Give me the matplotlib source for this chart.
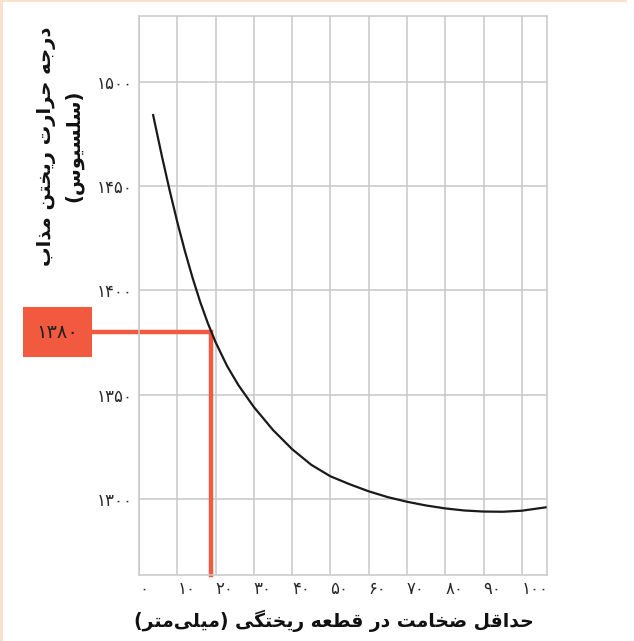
import matplotlib
matplotlib.use("Agg")
import matplotlib.pyplot as plt
from matplotlib.patches import Rectangle

# --- data -------------------------------------------------------------
thickness = [3.7, 4, 6, 8, 10, 12, 14, 16, 18, 20, 23, 26, 30, 35, 40, 45,
             50, 55, 60, 65, 70, 75, 80, 85, 90, 95, 100, 106.2]
pour_temp = [1484, 1481.4, 1464.2, 1448.0, 1432.8, 1418.8, 1406.0, 1394.4,
             1384.2, 1375.2, 1363.8, 1354.5, 1344.1, 1333.1, 1323.9, 1316.4,
             1310.9, 1307.1, 1303.7, 1300.9, 1298.7, 1296.9, 1295.5, 1294.5,
             1294.0, 1293.9, 1294.4, 1296.0]

x_ticks = [0, 10, 20, 30, 40, 50, 60, 70, 80, 90, 100]
y_ticks = [1300, 1350, 1400, 1450, 1500]

marked_temp = 1380
marked_thickness = 18.9

xlabel = "حداقل ضخامت در قطعه ریختگی (میلی\u200cمتر)"
ylabel = "درجه حرارت ریختن مذاب\n(سلسیوس)"

RED = "#f15a3e"

# --- farsi helpers (matplotlib has no arabic shaping) ------------------
FORMS = {  # isolated, final, initial, medial
    "ا": ("\uFE8D", "\uFE8E", None, None),
    "ب": ("\uFE8F", "\uFE90", "\uFE91", "\uFE92"),
    "ت": ("\uFE95", "\uFE96", "\uFE97", "\uFE98"),
    "ج": ("\uFE9D", "\uFE9E", "\uFE9F", "\uFEA0"),
    "ح": ("\uFEA1", "\uFEA2", "\uFEA3", "\uFEA4"),
    "خ": ("\uFEA5", "\uFEA6", "\uFEA7", "\uFEA8"),
    "د": ("\uFEA9", "\uFEAA", None, None),
    "ذ": ("\uFEAB", "\uFEAC", None, None),
    "ر": ("\uFEAD", "\uFEAE", None, None),
    "س": ("\uFEB1", "\uFEB2", "\uFEB3", "\uFEB4"),
    "ض": ("\uFEBD", "\uFEBE", "\uFEBF", "\uFEC0"),
    "ط": ("\uFEC1", "\uFEC2", "\uFEC3", "\uFEC4"),
    "ع": ("\uFEC9", "\uFECA", "\uFECB", "\uFECC"),
    "ق": ("\uFED5", "\uFED6", "\uFED7", "\uFED8"),
    "ل": ("\uFEDD", "\uFEDE", "\uFEDF", "\uFEE0"),
    "م": ("\uFEE1", "\uFEE2", "\uFEE3", "\uFEE4"),
    "ن": ("\uFEE5", "\uFEE6", "\uFEE7", "\uFEE8"),
    "ه": ("\uFEE9", "\uFEEA", "\uFEEB", "\uFEEC"),
    "و": ("\uFEED", "\uFEEE", None, None),
    "ی": ("\uFEEF", "\uFEF0", "\uFEF3", "\uFEF4"),
    "گ": ("\uFB92", "\uFB93", "\uFB94", "\uFB95"),
}


def shape_line(s):
    out = []
    for i, ch in enumerate(s):
        if ch not in FORMS:
            if ch != "\u200c":
                out.append(ch)
            continue
        prev = s[i - 1] if i > 0 else ""
        nxt = s[i + 1] if i + 1 < len(s) else ""
        joins_prev = prev in FORMS and FORMS[prev][2] is not None
        joins_next = nxt in FORMS and FORMS[ch][2] is not None
        iso, fin, ini, med = FORMS[ch]
        if joins_prev and joins_next:
            out.append(med)
        elif joins_prev:
            out.append(fin)
        elif joins_next:
            out.append(ini)
        else:
            out.append(iso)
    vis = "".join(reversed(out))
    return vis.translate(str.maketrans("()", ")("))


def fa(s):
    return "\n".join(shape_line(line) for line in s.split("\n"))


def fa_num(n):
    return str(n).translate(str.maketrans("0123456789", "۰۱۲۳۴۵۶۷۸۹"))


# --- figure -----------------------------------------------------------
fig = plt.figure(figsize=(6.34, 6.41), dpi=100)
ax = fig.add_axes([0.2192, 0.1030, 0.6431, 0.8721])

ax.set_xlim(0, 106.5)
ax.set_ylim(1263.6, 1531.5)

ax.set_xticks(x_ticks)
ax.set_xticklabels([fa_num(v) for v in x_ticks], ha="left")
ax.set_yticks(y_ticks)
ax.set_yticklabels([fa_num(v) for v in y_ticks])
ax.tick_params(length=0, labelsize=12, labelcolor="#2a2a2a")
ax.tick_params(axis="y", pad=4.5)
ax.tick_params(axis="x", pad=3.5)

ax.grid(True, color="#c8c8c8", linewidth=1.1)
for s in ax.spines.values():
    s.set_color("#c8c8c8")
    s.set_linewidth(1.1)

# the curve
ax.plot(thickness, pour_temp, color="#1a1a1a", linewidth=1.6, zorder=3)

# marker box + L shaped guide line
box_left, box_right = 23 / 634, 92 / 634
box_h = 24  # in degrees
trans = matplotlib.transforms.blended_transform_factory(fig.transFigure, ax.transData)
ax.add_patch(Rectangle((box_left, marked_temp - box_h / 2), box_right - box_left, box_h,
                       transform=trans, facecolor=RED, edgecolor="none",
                       clip_on=False, zorder=4))
ax.text((box_left + box_right) / 2, marked_temp, fa_num(marked_temp), transform=trans,
        ha="center", va="center", fontsize=14, color="#222222", zorder=5)

x_edge = ax.transData.inverted().transform(
    fig.transFigure.transform((box_right, 0)))[0]
ax.plot([x_edge, marked_thickness, marked_thickness],
        [marked_temp, marked_temp, ax.get_ylim()[0]],
        color=RED, linewidth=3.2, solid_joinstyle="miter", clip_on=False, zorder=2)

# axis titles
fig.text(334 / 634, 1 - 621 / 641, fa(xlabel), ha="center", va="center",
         fontsize=13.5, fontweight="bold", color="#111111")
fig.text(60 / 634, 1 - 146 / 641, fa(ylabel), ha="center", va="center",
         rotation=90, fontsize=14, fontweight="bold", color="#111111",
         multialignment="center", linespacing=1.5)

# thin page border
fig.patches.append(Rectangle((0, 0), 3 / 634, 1, transform=fig.transFigure,
                             facecolor="#fbe0cc", edgecolor="none"))
fig.patches.append(Rectangle((0, 1 - 1.5 / 641), 627 / 634, 1.5 / 641,
                             transform=fig.transFigure, facecolor="#fbe0cc",
                             edgecolor="none"))

fig.savefig("out.png", dpi=100)
